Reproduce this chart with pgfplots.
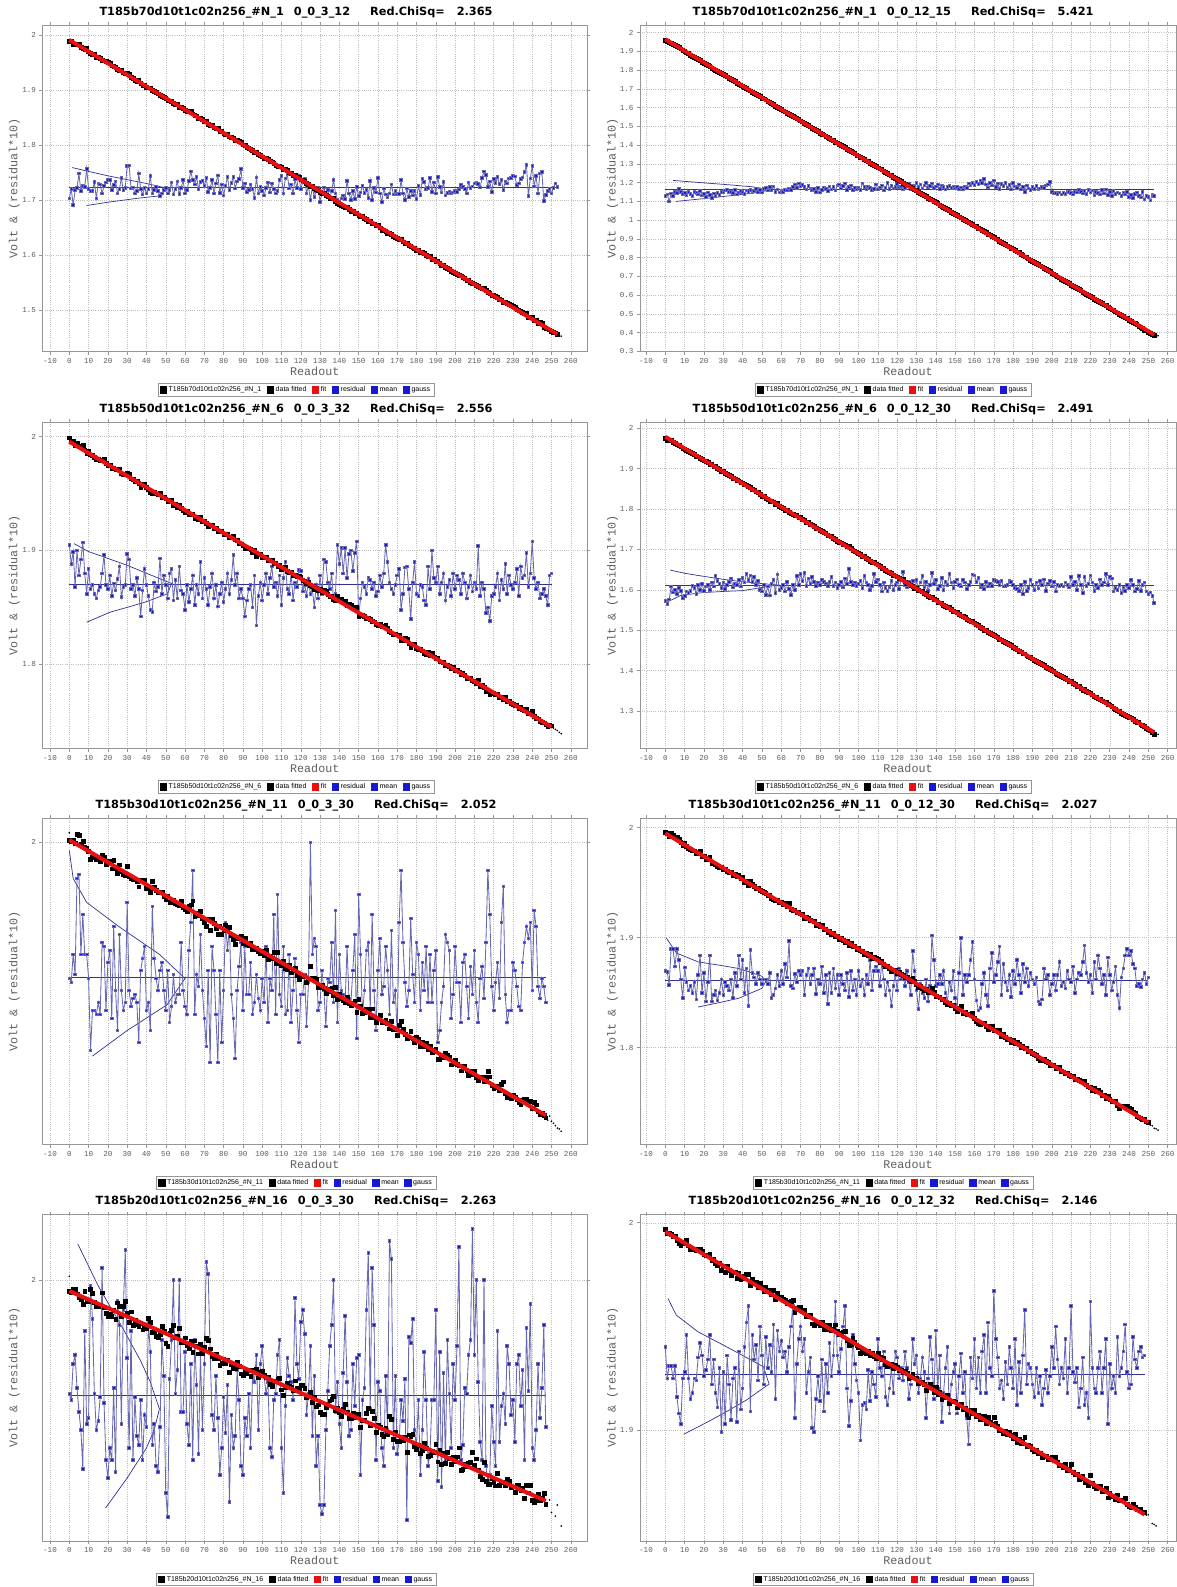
\documentclass[border=0pt]{standalone}
\usepackage{pgfplots}
\pgfplotsset{compat=1.18}
\usepackage{pgfplotstable}
\usepackage{fontspec}
\setmainfont{DejaVu Sans}
\setmonofont{Liberation Mono}
\newfontfamily\legfont{Liberation Sans}
\newfontfamily\labelfont{Liberation Mono}

\definecolor{fitred}{RGB}{232,16,16}
\definecolor{resblue}{RGB}{24,24,210}
\definecolor{resline}{RGB}{104,104,176}
\definecolor{meanblue}{RGB}{48,48,150}
\definecolor{gridgray}{RGB}{190,190,190}
\definecolor{framegray}{RGB}{150,150,150}
\definecolor{labelgray}{RGB}{95,95,95}

% residual*10 values, one per readout (x = row index)
\pgfplotstableread[row sep=\\]{
r\\
1.703\\ 1.720\\ 1.691\\ 1.718\\ 1.722\\ 1.748\\ 1.716\\ 1.726\\ 1.724\\ 1.757\\
1.720\\ 1.716\\ 1.717\\ 1.733\\ 1.703\\ 1.730\\ 1.728\\ 1.712\\ 1.726\\ 1.732\\
1.737\\ 1.737\\ 1.718\\ 1.727\\ 1.734\\ 1.712\\ 1.720\\ 1.740\\ 1.718\\ 1.722\\
1.762\\ 1.763\\ 1.721\\ 1.723\\ 1.712\\ 1.716\\ 1.748\\ 1.720\\ 1.710\\ 1.722\\
1.712\\ 1.720\\ 1.744\\ 1.712\\ 1.718\\ 1.724\\ 1.716\\ 1.707\\ 1.712\\ 1.718\\
1.722\\ 1.712\\ 1.718\\ 1.732\\ 1.710\\ 1.720\\ 1.734\\ 1.711\\ 1.722\\ 1.736\\
1.712\\ 1.718\\ 1.735\\ 1.752\\ 1.736\\ 1.728\\ 1.742\\ 1.720\\ 1.733\\ 1.735\\
1.726\\ 1.740\\ 1.715\\ 1.722\\ 1.736\\ 1.712\\ 1.730\\ 1.745\\ 1.713\\ 1.728\\
1.708\\ 1.726\\ 1.742\\ 1.718\\ 1.731\\ 1.742\\ 1.721\\ 1.734\\ 1.738\\ 1.756\\
1.722\\ 1.730\\ 1.715\\ 1.718\\ 1.728\\ 1.720\\ 1.704\\ 1.741\\ 1.712\\ 1.724\\
1.716\\ 1.708\\ 1.722\\ 1.732\\ 1.714\\ 1.730\\ 1.720\\ 1.712\\ 1.716\\ 1.736\\
1.744\\ 1.712\\ 1.739\\ 1.747\\ 1.721\\ 1.728\\ 1.712\\ 1.738\\ 1.722\\ 1.745\\
1.720\\ 1.732\\ 1.738\\ 1.712\\ 1.726\\ 1.700\\ 1.724\\ 1.706\\ 1.716\\ 1.722\\
1.697\\ 1.712\\ 1.723\\ 1.707\\ 1.718\\ 1.702\\ 1.716\\ 1.737\\ 1.712\\ 1.700\\
1.697\\ 1.703\\ 1.708\\ 1.702\\ 1.735\\ 1.712\\ 1.700\\ 1.716\\ 1.702\\ 1.724\\
1.707\\ 1.714\\ 1.726\\ 1.713\\ 1.718\\ 1.704\\ 1.735\\ 1.700\\ 1.722\\ 1.714\\
1.740\\ 1.712\\ 1.696\\ 1.721\\ 1.710\\ 1.705\\ 1.712\\ 1.728\\ 1.710\\ 1.716\\
1.710\\ 1.711\\ 1.736\\ 1.712\\ 1.700\\ 1.721\\ 1.706\\ 1.717\\ 1.708\\ 1.717\\
1.702\\ 1.726\\ 1.709\\ 1.738\\ 1.733\\ 1.720\\ 1.722\\ 1.740\\ 1.715\\ 1.732\\
1.712\\ 1.742\\ 1.724\\ 1.714\\ 1.733\\ 1.708\\ 1.713\\ 1.715\\ 1.712\\ 1.714\\
1.717\\ 1.715\\ 1.719\\ 1.727\\ 1.724\\ 1.720\\ 1.712\\ 1.732\\ 1.722\\ 1.725\\
1.730\\ 1.731\\ 1.729\\ 1.723\\ 1.740\\ 1.752\\ 1.746\\ 1.724\\ 1.734\\ 1.715\\
1.738\\ 1.731\\ 1.742\\ 1.729\\ 1.736\\ 1.718\\ 1.734\\ 1.730\\ 1.739\\ 1.740\\
1.744\\ 1.743\\ 1.727\\ 1.730\\ 1.738\\ 1.741\\ 1.751\\ 1.764\\ 1.707\\ 1.739\\
1.762\\ 1.725\\ 1.744\\ 1.712\\ 1.748\\ 1.751\\ 1.698\\ 1.709\\ 1.716\\ 1.720\\
1.712\\ 1.722\\ 1.730\\ 1.724\\
}\resA

\pgfplotstableread[row sep=\\]{
r\\
1.130\\ 1.138\\ 1.100\\ 1.142\\ 1.128\\ 1.150\\ 1.145\\ 1.168\\ 1.152\\ 1.140\\
1.146\\ 1.132\\ 1.150\\ 1.140\\ 1.128\\ 1.152\\ 1.145\\ 1.138\\ 1.155\\ 1.132\\
1.140\\ 1.125\\ 1.148\\ 1.136\\ 1.120\\ 1.142\\ 1.130\\ 1.145\\ 1.135\\ 1.150\\
1.148\\ 1.158\\ 1.160\\ 1.152\\ 1.150\\ 1.145\\ 1.160\\ 1.138\\ 1.148\\ 1.155\\
1.150\\ 1.140\\ 1.158\\ 1.152\\ 1.162\\ 1.148\\ 1.155\\ 1.168\\ 1.150\\ 1.160\\
1.148\\ 1.166\\ 1.172\\ 1.158\\ 1.178\\ 1.160\\ 1.180\\ 1.152\\ 1.165\\ 1.148\\
1.155\\ 1.150\\ 1.162\\ 1.158\\ 1.170\\ 1.160\\ 1.176\\ 1.190\\ 1.172\\ 1.195\\
1.180\\ 1.188\\ 1.178\\ 1.165\\ 1.182\\ 1.170\\ 1.160\\ 1.168\\ 1.150\\ 1.172\\
1.148\\ 1.160\\ 1.175\\ 1.168\\ 1.155\\ 1.180\\ 1.165\\ 1.178\\ 1.158\\ 1.185\\
1.190\\ 1.170\\ 1.182\\ 1.196\\ 1.162\\ 1.178\\ 1.185\\ 1.160\\ 1.172\\ 1.165\\
1.175\\ 1.162\\ 1.195\\ 1.178\\ 1.165\\ 1.180\\ 1.172\\ 1.160\\ 1.168\\ 1.190\\
1.165\\ 1.175\\ 1.186\\ 1.158\\ 1.172\\ 1.198\\ 1.168\\ 1.182\\ 1.170\\ 1.178\\
1.192\\ 1.175\\ 1.180\\ 1.165\\ 1.172\\ 1.188\\ 1.195\\ 1.168\\ 1.182\\ 1.176\\
1.200\\ 1.178\\ 1.190\\ 1.170\\ 1.186\\ 1.198\\ 1.175\\ 1.182\\ 1.196\\ 1.172\\
1.180\\ 1.190\\ 1.168\\ 1.185\\ 1.178\\ 1.165\\ 1.176\\ 1.182\\ 1.172\\ 1.180\\
1.170\\ 1.178\\ 1.168\\ 1.175\\ 1.165\\ 1.180\\ 1.172\\ 1.196\\ 1.185\\ 1.200\\
1.188\\ 1.205\\ 1.192\\ 1.210\\ 1.198\\ 1.220\\ 1.190\\ 1.175\\ 1.200\\ 1.185\\
1.212\\ 1.178\\ 1.196\\ 1.168\\ 1.192\\ 1.182\\ 1.200\\ 1.175\\ 1.188\\ 1.165\\
1.198\\ 1.180\\ 1.172\\ 1.190\\ 1.165\\ 1.178\\ 1.152\\ 1.185\\ 1.170\\ 1.160\\
1.176\\ 1.168\\ 1.182\\ 1.165\\ 1.170\\ 1.178\\ 1.172\\ 1.185\\ 1.190\\ 1.205\\
1.150\\ 1.142\\ 1.145\\ 1.140\\ 1.148\\ 1.138\\ 1.145\\ 1.140\\ 1.150\\ 1.152\\
1.145\\ 1.138\\ 1.152\\ 1.148\\ 1.160\\ 1.150\\ 1.142\\ 1.155\\ 1.140\\ 1.162\\
1.148\\ 1.158\\ 1.132\\ 1.150\\ 1.145\\ 1.138\\ 1.160\\ 1.142\\ 1.165\\ 1.135\\
1.150\\ 1.128\\ 1.155\\ 1.140\\ 1.148\\ 1.142\\ 1.130\\ 1.145\\ 1.138\\ 1.150\\
1.125\\ 1.135\\ 1.118\\ 1.140\\ 1.148\\ 1.128\\ 1.122\\ 1.150\\ 1.110\\ 1.130\\
1.125\\ 1.105\\ 1.135\\ 1.130\\
}\resB

\pgfplotstableread[row sep=\\]{
r\\
1.905\\ 1.888\\ 1.899\\ 1.868\\ 1.900\\ 1.878\\ 1.892\\ 1.907\\ 1.880\\ 1.862\\
1.884\\ 1.866\\ 1.870\\ 1.862\\ 1.858\\ 1.865\\ 1.868\\ 1.880\\ 1.896\\ 1.870\\
1.866\\ 1.878\\ 1.860\\ 1.871\\ 1.865\\ 1.875\\ 1.886\\ 1.859\\ 1.868\\ 1.870\\
1.897\\ 1.892\\ 1.866\\ 1.870\\ 1.860\\ 1.876\\ 1.866\\ 1.842\\ 1.865\\ 1.884\\
1.870\\ 1.860\\ 1.848\\ 1.846\\ 1.872\\ 1.864\\ 1.868\\ 1.893\\ 1.862\\ 1.878\\
1.870\\ 1.858\\ 1.880\\ 1.884\\ 1.856\\ 1.874\\ 1.858\\ 1.886\\ 1.865\\ 1.862\\
1.848\\ 1.870\\ 1.855\\ 1.866\\ 1.878\\ 1.852\\ 1.870\\ 1.862\\ 1.890\\ 1.858\\
1.876\\ 1.866\\ 1.852\\ 1.868\\ 1.880\\ 1.858\\ 1.870\\ 1.851\\ 1.862\\ 1.872\\
1.855\\ 1.866\\ 1.880\\ 1.862\\ 1.874\\ 1.896\\ 1.870\\ 1.880\\ 1.858\\ 1.866\\
1.858\\ 1.842\\ 1.856\\ 1.866\\ 1.870\\ 1.850\\ 1.878\\ 1.834\\ 1.860\\ 1.872\\
1.856\\ 1.870\\ 1.880\\ 1.862\\ 1.876\\ 1.886\\ 1.868\\ 1.872\\ 1.860\\ 1.878\\
1.852\\ 1.876\\ 1.890\\ 1.866\\ 1.862\\ 1.880\\ 1.856\\ 1.872\\ 1.868\\ 1.883\\
1.882\\ 1.864\\ 1.870\\ 1.860\\ 1.875\\ 1.862\\ 1.866\\ 1.850\\ 1.870\\ 1.858\\
1.878\\ 1.862\\ 1.892\\ 1.890\\ 1.872\\ 1.866\\ 1.880\\ 1.856\\ 1.862\\ 1.905\\
1.888\\ 1.902\\ 1.880\\ 1.902\\ 1.876\\ 1.897\\ 1.900\\ 1.882\\ 1.898\\ 1.908\\
1.842\\ 1.858\\ 1.872\\ 1.868\\ 1.862\\ 1.876\\ 1.874\\ 1.866\\ 1.872\\ 1.860\\
1.864\\ 1.878\\ 1.868\\ 1.880\\ 1.905\\ 1.890\\ 1.872\\ 1.866\\ 1.862\\ 1.870\\
1.878\\ 1.884\\ 1.848\\ 1.862\\ 1.885\\ 1.886\\ 1.866\\ 1.840\\ 1.872\\ 1.890\\
1.862\\ 1.860\\ 1.870\\ 1.868\\ 1.856\\ 1.852\\ 1.886\\ 1.866\\ 1.900\\ 1.876\\
1.872\\ 1.886\\ 1.862\\ 1.872\\ 1.880\\ 1.856\\ 1.868\\ 1.874\\ 1.860\\ 1.880\\
1.866\\ 1.878\\ 1.874\\ 1.862\\ 1.880\\ 1.872\\ 1.858\\ 1.868\\ 1.878\\ 1.864\\
1.872\\ 1.866\\ 1.904\\ 1.860\\ 1.872\\ 1.866\\ 1.845\\ 1.850\\ 1.838\\ 1.860\\
1.862\\ 1.868\\ 1.880\\ 1.856\\ 1.874\\ 1.866\\ 1.888\\ 1.862\\ 1.878\\ 1.870\\
1.866\\ 1.872\\ 1.884\\ 1.860\\ 1.886\\ 1.876\\ 1.878\\ 1.898\\ 1.868\\ 1.880\\
1.908\\ 1.876\\ 1.866\\ 1.872\\ 1.858\\ 1.862\\ 1.866\\ 1.860\\ 1.852\\ 1.878\\
1.880\\
}\resC

\pgfplotstableread[row sep=\\]{
r\\
1.572\\ 1.565\\ 1.576\\ 1.608\\ 1.594\\ 1.600\\ 1.590\\ 1.605\\ 1.598\\ 1.580\\
1.585\\ 1.596\\ 1.592\\ 1.598\\ 1.610\\ 1.604\\ 1.590\\ 1.612\\ 1.600\\ 1.615\\
1.598\\ 1.608\\ 1.612\\ 1.600\\ 1.618\\ 1.608\\ 1.635\\ 1.622\\ 1.615\\ 1.605\\
1.618\\ 1.602\\ 1.612\\ 1.620\\ 1.628\\ 1.606\\ 1.615\\ 1.612\\ 1.625\\ 1.608\\
1.630\\ 1.618\\ 1.640\\ 1.625\\ 1.636\\ 1.620\\ 1.632\\ 1.612\\ 1.622\\ 1.600\\
1.596\\ 1.612\\ 1.588\\ 1.608\\ 1.586\\ 1.615\\ 1.625\\ 1.592\\ 1.638\\ 1.600\\
1.604\\ 1.612\\ 1.596\\ 1.620\\ 1.602\\ 1.588\\ 1.612\\ 1.600\\ 1.635\\ 1.612\\
1.640\\ 1.622\\ 1.642\\ 1.610\\ 1.628\\ 1.615\\ 1.632\\ 1.620\\ 1.610\\ 1.618\\
1.612\\ 1.625\\ 1.620\\ 1.616\\ 1.610\\ 1.620\\ 1.632\\ 1.610\\ 1.618\\ 1.605\\
1.612\\ 1.620\\ 1.606\\ 1.628\\ 1.615\\ 1.652\\ 1.620\\ 1.612\\ 1.618\\ 1.610\\
1.615\\ 1.622\\ 1.605\\ 1.635\\ 1.618\\ 1.612\\ 1.600\\ 1.610\\ 1.640\\ 1.620\\
1.626\\ 1.612\\ 1.596\\ 1.618\\ 1.604\\ 1.598\\ 1.606\\ 1.622\\ 1.600\\ 1.612\\
1.618\\ 1.602\\ 1.625\\ 1.645\\ 1.612\\ 1.606\\ 1.620\\ 1.615\\ 1.622\\ 1.602\\
1.625\\ 1.598\\ 1.618\\ 1.635\\ 1.606\\ 1.620\\ 1.598\\ 1.612\\ 1.642\\ 1.615\\
1.625\\ 1.602\\ 1.610\\ 1.630\\ 1.600\\ 1.620\\ 1.612\\ 1.640\\ 1.618\\ 1.605\\
1.620\\ 1.626\\ 1.612\\ 1.608\\ 1.625\\ 1.618\\ 1.602\\ 1.612\\ 1.620\\ 1.638\\
1.636\\ 1.620\\ 1.630\\ 1.606\\ 1.612\\ 1.602\\ 1.620\\ 1.608\\ 1.615\\ 1.610\\
1.624\\ 1.622\\ 1.620\\ 1.612\\ 1.622\\ 1.608\\ 1.610\\ 1.612\\ 1.622\\ 1.620\\
1.612\\ 1.604\\ 1.602\\ 1.598\\ 1.612\\ 1.590\\ 1.620\\ 1.598\\ 1.605\\ 1.625\\
1.612\\ 1.600\\ 1.618\\ 1.603\\ 1.622\\ 1.612\\ 1.626\\ 1.598\\ 1.616\\ 1.622\\
1.608\\ 1.620\\ 1.596\\ 1.612\\ 1.610\\ 1.612\\ 1.608\\ 1.618\\ 1.612\\ 1.606\\
1.632\\ 1.612\\ 1.620\\ 1.600\\ 1.635\\ 1.612\\ 1.592\\ 1.632\\ 1.610\\ 1.615\\
1.636\\ 1.618\\ 1.598\\ 1.612\\ 1.604\\ 1.626\\ 1.612\\ 1.618\\ 1.640\\ 1.612\\
1.632\\ 1.628\\ 1.596\\ 1.605\\ 1.600\\ 1.612\\ 1.592\\ 1.606\\ 1.598\\ 1.612\\
1.605\\ 1.625\\ 1.612\\ 1.596\\ 1.602\\ 1.622\\ 1.598\\ 1.612\\ 1.618\\ 1.596\\
1.590\\ 1.594\\ 1.585\\ 1.568\\
}\resD

\pgfplotstableread[row sep=\\]{
r\\
1.966\\ 1.965\\ 1.972\\ 1.967\\ 1.991\\ 1.992\\ 1.972\\ 1.982\\ 1.972\\ 1.972\\
1.966\\ 1.948\\ 1.958\\ 1.958\\ 1.957\\ 1.960\\ 1.957\\ 1.975\\ 1.974\\ 1.958\\
1.970\\ 1.973\\ 1.956\\ 1.979\\ 1.963\\ 1.953\\ 1.977\\ 1.963\\ 1.958\\ 1.960\\
1.985\\ 1.963\\ 1.959\\ 1.961\\ 1.962\\ 1.960\\ 1.950\\ 1.968\\ 1.971\\ 1.974\\
1.958\\ 1.960\\ 1.953\\ 1.984\\ 1.971\\ 1.966\\ 1.963\\ 1.968\\ 1.970\\ 1.963\\
1.958\\ 1.968\\ 1.955\\ 1.959\\ 1.967\\ 1.960\\ 1.962\\ 1.962\\ 1.975\\ 1.963\\
1.959\\ 1.957\\ 1.973\\ 1.980\\ 1.993\\ 1.957\\ 1.967\\ 1.964\\ 1.977\\ 1.963\\
1.956\\ 1.949\\ 1.968\\ 1.945\\ 1.974\\ 1.968\\ 1.957\\ 1.945\\ 1.968\\ 1.950\\
1.963\\ 1.980\\ 1.973\\ 1.979\\ 1.962\\ 1.956\\ 1.946\\ 1.963\\ 1.969\\ 1.975\\
1.958\\ 1.974\\ 1.962\\ 1.962\\ 1.970\\ 1.957\\ 1.960\\ 1.967\\ 1.961\\ 1.958\\
1.966\\ 1.960\\ 1.974\\ 1.955\\ 1.966\\ 1.963\\ 1.982\\ 1.957\\ 1.987\\ 1.962\\
1.959\\ 1.974\\ 1.957\\ 1.958\\ 1.972\\ 1.955\\ 1.963\\ 1.971\\ 1.958\\ 1.950\\
1.962\\ 1.962\\ 1.967\\ 1.954\\ 1.965\\ 2.000\\ 1.972\\ 1.976\\ 1.974\\ 1.958\\
1.960\\ 1.968\\ 1.963\\ 1.954\\ 1.966\\ 1.965\\ 1.975\\ 1.960\\ 1.983\\ 1.955\\
1.972\\ 1.963\\ 1.962\\ 1.960\\ 1.974\\ 1.961\\ 1.960\\ 1.968\\ 1.977\\ 1.951\\
1.987\\ 1.972\\ 1.957\\ 1.963\\ 1.973\\ 1.975\\ 1.958\\ 1.982\\ 1.963\\ 1.953\\
1.968\\ 1.976\\ 1.962\\ 1.964\\ 1.974\\ 1.968\\ 1.957\\ 1.978\\ 1.960\\ 1.963\\
1.952\\ 1.980\\ 1.993\\ 1.975\\ 1.965\\ 1.959\\ 1.963\\ 1.981\\ 1.967\\ 1.960\\
1.975\\ 1.972\\ 1.958\\ 1.970\\ 1.963\\ 1.974\\ 1.960\\ 1.972\\ 1.960\\ 1.968\\
1.973\\ 1.950\\ 1.953\\ 1.960\\ 1.964\\ 1.977\\ 1.975\\ 1.973\\ 1.956\\ 1.962\\
1.974\\ 1.965\\ 1.965\\ 1.955\\ 1.970\\ 1.972\\ 1.964\\ 1.956\\ 1.969\\ 1.962\\
1.973\\ 1.960\\ 1.955\\ 1.966\\ 1.969\\ 1.961\\ 1.975\\ 1.993\\ 1.982\\ 1.964\\
1.958\\ 1.965\\ 1.970\\ 1.961\\ 1.980\\ 1.989\\ 1.962\\ 1.955\\ 1.958\\ 1.958\\
1.970\\ 1.968\\ 1.964\\ 1.959\\ 1.958\\ 1.970\\ 1.975\\ 1.979\\ 1.976\\ 1.980\\
1.963\\ 1.983\\ 1.979\\ 1.964\\ 1.961\\ 1.966\\ 1.964\\ 1.960\\
}\resE

\pgfplotstableread[row sep=\\]{
r\\
1.870\\ 1.869\\ 1.857\\ 1.890\\ 1.890\\ 1.874\\ 1.890\\ 1.880\\ 1.862\\ 1.845\\
1.873\\ 1.860\\ 1.852\\ 1.856\\ 1.850\\ 1.860\\ 1.844\\ 1.866\\ 1.884\\ 1.850\\
1.868\\ 1.842\\ 1.860\\ 1.884\\ 1.842\\ 1.848\\ 1.852\\ 1.843\\ 1.850\\ 1.862\\
1.848\\ 1.860\\ 1.856\\ 1.852\\ 1.862\\ 1.845\\ 1.868\\ 1.856\\ 1.884\\ 1.862\\
1.880\\ 1.850\\ 1.872\\ 1.838\\ 1.889\\ 1.868\\ 1.864\\ 1.858\\ 1.868\\ 1.862\\
1.858\\ 1.862\\ 1.862\\ 1.858\\ 1.868\\ 1.845\\ 1.848\\ 1.854\\ 1.866\\ 1.856\\
1.870\\ 1.858\\ 1.876\\ 1.864\\ 1.897\\ 1.856\\ 1.854\\ 1.867\\ 1.860\\ 1.870\\
1.866\\ 1.870\\ 1.848\\ 1.866\\ 1.872\\ 1.858\\ 1.866\\ 1.872\\ 1.849\\ 1.862\\
1.858\\ 1.874\\ 1.850\\ 1.866\\ 1.840\\ 1.868\\ 1.850\\ 1.872\\ 1.854\\ 1.866\\
1.848\\ 1.866\\ 1.858\\ 1.852\\ 1.868\\ 1.846\\ 1.870\\ 1.852\\ 1.862\\ 1.848\\
1.870\\ 1.856\\ 1.862\\ 1.848\\ 1.866\\ 1.858\\ 1.880\\ 1.852\\ 1.870\\ 1.874\\
1.870\\ 1.856\\ 1.878\\ 1.862\\ 1.848\\ 1.860\\ 1.852\\ 1.838\\ 1.856\\ 1.866\\
1.852\\ 1.872\\ 1.862\\ 1.866\\ 1.856\\ 1.870\\ 1.860\\ 1.848\\ 1.888\\ 1.870\\
1.852\\ 1.835\\ 1.858\\ 1.850\\ 1.845\\ 1.862\\ 1.842\\ 1.856\\ 1.902\\ 1.880\\
1.856\\ 1.858\\ 1.866\\ 1.858\\ 1.870\\ 1.850\\ 1.842\\ 1.860\\ 1.852\\ 1.870\\
1.845\\ 1.835\\ 1.868\\ 1.900\\ 1.848\\ 1.866\\ 1.860\\ 1.866\\ 1.880\\ 1.896\\
1.862\\ 1.843\\ 1.834\\ 1.836\\ 1.858\\ 1.868\\ 1.848\\ 1.838\\ 1.872\\ 1.886\\
1.860\\ 1.866\\ 1.878\\ 1.892\\ 1.848\\ 1.876\\ 1.860\\ 1.852\\ 1.866\\ 1.846\\
1.870\\ 1.858\\ 1.880\\ 1.866\\ 1.850\\ 1.876\\ 1.860\\ 1.872\\ 1.856\\ 1.868\\
1.862\\ 1.858\\ 1.864\\ 1.842\\ 1.840\\ 1.844\\ 1.872\\ 1.862\\ 1.866\\ 1.848\\
1.858\\ 1.866\\ 1.852\\ 1.866\\ 1.878\\ 1.856\\ 1.860\\ 1.854\\ 1.870\\ 1.862\\
1.860\\ 1.874\\ 1.850\\ 1.862\\ 1.868\\ 1.866\\ 1.878\\ 1.893\\ 1.868\\ 1.860\\
1.866\\ 1.850\\ 1.878\\ 1.862\\ 1.884\\ 1.872\\ 1.858\\ 1.866\\ 1.848\\ 1.882\\
1.866\\ 1.852\\ 1.860\\ 1.874\\ 1.848\\ 1.836\\ 1.864\\ 1.872\\ 1.884\\ 1.890\\
1.884\\ 1.888\\ 1.876\\ 1.872\\ 1.856\\ 1.858\\ 1.855\\ 1.862\\ 1.868\\ 1.858\\
1.864\\
}\resF

\pgfplotstableread[row sep=\\]{
r\\
1.962\\ 1.960\\ 1.972\\ 1.975\\ 1.964\\ 1.956\\ 1.950\\ 1.937\\ 1.983\\ 1.952\\
1.954\\ 1.998\\ 1.987\\ 1.962\\ 1.950\\ 1.953\\ 1.961\\ 2.004\\ 1.959\\ 1.940\\
1.934\\ 1.944\\ 1.940\\ 1.964\\ 1.936\\ 1.993\\ 1.985\\ 1.952\\ 1.990\\ 2.010\\
1.974\\ 1.944\\ 1.983\\ 1.940\\ 1.961\\ 1.948\\ 1.945\\ 1.960\\ 1.940\\ 1.955\\
1.951\\ 1.986\\ 1.976\\ 1.945\\ 1.952\\ 1.938\\ 1.936\\ 1.951\\ 1.980\\ 1.968\\
1.929\\ 1.921\\ 1.967\\ 1.980\\ 2.000\\ 1.962\\ 1.970\\ 2.000\\ 1.956\\ 1.956\\
1.976\\ 1.952\\ 1.945\\ 1.972\\ 1.940\\ 1.980\\ 1.965\\ 1.942\\ 1.976\\ 1.950\\
1.972\\ 2.006\\ 2.002\\ 1.976\\ 1.955\\ 1.950\\ 1.968\\ 1.954\\ 1.935\\ 1.944\\
1.961\\ 1.949\\ 1.965\\ 1.926\\ 1.955\\ 1.944\\ 1.948\\ 1.970\\ 1.960\\ 1.938\\
1.935\\ 1.954\\ 1.948\\ 1.962\\ 1.944\\ 1.968\\ 1.966\\ 1.975\\ 1.950\\ 1.972\\
1.978\\ 1.968\\ 1.962\\ 1.966\\ 1.944\\ 1.941\\ 1.960\\ 1.962\\ 1.975\\ 1.980\\
1.944\\ 1.929\\ 1.958\\ 1.974\\ 1.968\\ 1.966\\ 1.960\\ 1.994\\ 1.972\\ 1.967\\
1.986\\ 1.990\\ 1.982\\ 1.955\\ 1.962\\ 1.978\\ 1.948\\ 1.968\\ 1.938\\ 1.948\\
1.925\\ 1.922\\ 1.925\\ 1.950\\ 1.963\\ 1.978\\ 1.985\\ 2.000\\ 1.956\\ 1.966\\
1.952\\ 1.944\\ 1.969\\ 1.988\\ 1.966\\ 1.948\\ 1.950\\ 1.972\\ 1.958\\ 1.974\\
1.975\\ 1.935\\ 1.960\\ 1.964\\ 1.990\\ 2.009\\ 1.957\\ 2.004\\ 1.985\\ 1.940\\
1.966\\ 1.963\\ 1.944\\ 1.938\\ 1.968\\ 1.950\\ 2.013\\ 2.007\\ 1.944\\ 1.968\\
1.942\\ 1.946\\ 1.960\\ 1.953\\ 1.967\\ 1.920\\ 1.981\\ 1.979\\ 1.987\\ 1.950\\
1.944\\ 1.960\\ 1.935\\ 1.950\\ 1.976\\ 1.960\\ 1.938\\ 1.942\\ 1.960\\ 1.960\\
1.990\\ 1.933\\ 1.976\\ 1.931\\ 1.969\\ 1.940\\ 1.980\\ 1.962\\ 1.944\\ 1.972\\
1.960\\ 1.978\\ 2.011\\ 1.940\\ 1.945\\ 1.964\\ 1.962\\ 1.975\\ 1.980\\ 2.017\\
1.975\\ 2.000\\ 1.966\\ 1.946\\ 1.940\\ 2.000\\ 1.938\\ 1.933\\ 1.935\\ 1.958\\
1.946\\ 1.938\\ 1.983\\ 1.946\\ 1.958\\ 1.962\\ 1.952\\ 1.978\\ 1.972\\ 1.955\\
1.960\\ 1.946\\ 1.972\\ 1.975\\ 1.958\\ 1.970\\ 1.940\\ 1.984\\ 1.963\\ 1.992\\
1.944\\ 1.940\\ 1.950\\ 1.972\\ 1.954\\ 1.964\\ 1.985\\ 1.951\\
}\resG

\pgfplotstableread[row sep=\\]{
r\\
1.940\\ 1.925\\ 1.931\\ 1.931\\ 1.925\\ 1.931\\ 1.916\\ 1.908\\ 1.903\\ 1.925\\
1.928\\ 1.946\\ 1.925\\ 1.915\\ 1.918\\ 1.925\\ 1.924\\ 1.935\\ 1.942\\ 1.936\\
1.926\\ 1.929\\ 1.934\\ 1.946\\ 1.922\\ 1.934\\ 1.918\\ 1.911\\ 1.930\\ 1.899\\
1.928\\ 1.903\\ 1.936\\ 1.922\\ 1.905\\ 1.925\\ 1.930\\ 1.904\\ 1.938\\ 1.910\\
1.920\\ 1.940\\ 1.952\\ 1.960\\ 1.909\\ 1.946\\ 1.934\\ 1.941\\ 1.924\\ 1.950\\
1.936\\ 1.922\\ 1.945\\ 1.930\\ 1.941\\ 1.928\\ 1.951\\ 1.915\\ 1.948\\ 1.938\\
1.943\\ 1.935\\ 1.938\\ 1.928\\ 1.940\\ 1.950\\ 1.960\\ 1.906\\ 1.932\\ 1.944\\
1.950\\ 1.938\\ 1.944\\ 1.918\\ 1.928\\ 1.935\\ 1.901\\ 1.899\\ 1.915\\ 1.926\\
1.914\\ 1.934\\ 1.909\\ 1.932\\ 1.918\\ 1.942\\ 1.926\\ 1.936\\ 1.962\\ 1.936\\
1.928\\ 1.939\\ 1.950\\ 1.960\\ 1.920\\ 1.902\\ 1.914\\ 1.946\\ 1.932\\ 1.924\\
1.918\\ 1.895\\ 1.912\\ 1.913\\ 1.910\\ 1.929\\ 1.914\\ 1.928\\ 1.922\\ 1.916\\
1.944\\ 1.930\\ 1.926\\ 1.938\\ 1.916\\ 1.912\\ 1.920\\ 1.930\\ 1.918\\ 1.938\\
1.935\\ 1.925\\ 1.930\\ 1.924\\ 1.938\\ 1.930\\ 1.915\\ 1.922\\ 1.944\\ 1.932\\
1.936\\ 1.918\\ 1.925\\ 1.935\\ 1.928\\ 1.906\\ 1.925\\ 1.945\\ 1.934\\ 1.915\\
1.948\\ 1.920\\ 1.936\\ 1.904\\ 1.918\\ 1.930\\ 1.940\\ 1.908\\ 1.922\\ 1.928\\
1.932\\ 1.908\\ 1.926\\ 1.937\\ 1.918\\ 1.928\\ 1.906\\ 1.893\\ 1.935\\ 1.925\\
1.944\\ 1.920\\ 1.935\\ 1.918\\ 1.938\\ 1.946\\ 1.918\\ 1.952\\ 1.930\\ 1.926\\
1.967\\ 1.944\\ 1.935\\ 1.920\\ 1.924\\ 1.915\\ 1.933\\ 1.922\\ 1.940\\ 1.930\\
1.920\\ 1.944\\ 1.912\\ 1.933\\ 1.918\\ 1.936\\ 1.958\\ 1.922\\ 1.932\\ 1.930\\
1.922\\ 1.916\\ 1.930\\ 1.918\\ 1.926\\ 1.912\\ 1.920\\ 1.929\\ 1.918\\ 1.926\\
1.940\\ 1.930\\ 1.950\\ 1.934\\ 1.922\\ 1.930\\ 1.925\\ 1.944\\ 1.918\\ 1.930\\
1.960\\ 1.928\\ 1.923\\ 1.930\\ 1.911\\ 1.920\\ 1.935\\ 1.912\\ 1.918\\ 1.906\\
1.962\\ 1.930\\ 1.920\\ 1.918\\ 1.930\\ 1.938\\ 1.918\\ 1.930\\ 1.944\\ 1.903\\
1.932\\ 1.920\\ 1.926\\ 1.918\\ 1.945\\ 1.926\\ 1.930\\ 1.938\\ 1.951\\ 1.928\\
1.920\\ 1.922\\ 1.945\\ 1.934\\ 1.930\\ 1.938\\ 1.940\\ 1.935\\ 1.936\\
}\resH

\pgfplotsset{
  legsq/.style={legend image code/.code={\fill[#1] (0pt,-3.2pt) rectangle (6.4pt,3.2pt);}},
  gaussline/.style={forget plot, no markers, draw=meanblue, line width=0.7pt},
  meanline/.style={forget plot, no markers, draw=meanblue, line width=0.9pt},
  resplot/.style={forget plot, draw=resline, line width=0.85pt, mark=square*, mark size=1.3pt,
    mark options={fill=resblue, draw=none}},
  rawpts/.style={forget plot, only marks, mark=*, mark size=0.6pt, black},
  fitpts/.style={forget plot, only marks, mark=square*, mark size=1.9pt, black},
  fitline/.style={forget plot, no markers, draw=fitred, line width=4pt},
  panel/.style={
    scale only axis, height=326.5pt,
    clip mode=individual,
    axis line style={draw=framegray, line width=0.6pt},
    xtick={-10,0,...,260},
    grid=major,
    major grid style={draw=gridgray, line width=0.45pt, dash pattern=on 1pt off 1.2pt},
    tick align=outside, major tick length=3pt,
    major tick style={draw=framegray, line width=0.5pt},
    /pgf/number format/assume math mode=true,
    yticklabel style={/pgf/number format/fixed, /pgf/number format/precision=1},
    ticklabel style={font=\labelfont\fontsize{7.6}{8}\selectfont, text=labelgray},
    xlabel={\labelfont\fontsize{11.7}{13}\selectfont Readout},
    ylabel={\labelfont\fontsize{11.7}{13}\selectfont Volt \& (residual*10)},
    every axis x label/.style={at={(axis description cs:0.5,-0.0597)}, anchor=center, text=labelgray},
    legend columns=6,
    legend cell align=left,
    legend style={anchor=center, draw=framegray, line width=0.5pt, fill=white,
      inner xsep=2pt, inner ysep=1pt, font=\legfont\fontsize{7}{8}\selectfont,
      nodes={text height=5.1pt, text depth=1.5pt},
      /tikz/every even column/.append style={column sep=3.5pt}},
  },
  leftcol/.style={width=544.5pt, xmin=-13.9, xmax=268.4,
    every axis title/.style={at={(axis description cs:0.4656,1.0383)}, anchor=center,
      font=\bfseries\fontsize{11.3}{13}\selectfont},
    every axis y label/.style={at={(axis description cs:-0.0518,0.5)}, anchor=center, rotate=90, text=labelgray},
    legend style={at={(0.4656,-0.1173)}}},
  rightcol/.style={width=536pt, xmin=-13.1, xmax=264.3,
    every axis title/.style={at={(axis description cs:0.472,1.0383)}, anchor=center,
      font=\bfseries\fontsize{11.3}{13}\selectfont},
    every axis y label/.style={at={(axis description cs:-0.0513,0.5)}, anchor=center, rotate=90, text=labelgray},
    legend style={at={(0.472,-0.1173)}}},
}

\newcommand\legendsquares[1]{%
  \addlegendimage{legsq=black}
  \addlegendimage{legsq=black}
  \addlegendimage{legsq=fitred}
  \addlegendimage{legsq=resblue}
  \addlegendimage{legsq=resblue}
  \addlegendimage{legsq=resblue}
  \legend{#1, data fitted, fit, residual, mean, gauss}}

\begin{document}
\begin{tikzpicture}
\path[fill=white, use as bounding box] (0pt,0pt) rectangle (1177pt,-1587pt);

% ---------- row 1 ----------
\begin{axis}[panel, leftcol, at={(42.5pt,-351.5pt)}, anchor=south west,
  ymin=1.4246, ymax=2.0182, ytick={1.5,1.6,1.7,1.8,1.9,2},
  title={T185b70d10t1c02n256\_\#N\_1\hspace{10pt}0\_0\_3\_12\hspace{20pt}Red.ChiSq=\hspace{12pt}2.365}]
  \legendsquares{T185b70d10t1c02n256\_\#N\_1}
  \addplot[gaussline] coordinates {(1.5,1.759) (10,1.752) (20,1.744) (30,1.737) (40,1.730) (50,1.722)
    (48,1.708) (35,1.703) (20,1.696) (9,1.690)};
  \addplot[meanline] coordinates {(0,1.722) (253,1.722)};
  \addplot[resplot] table[x expr=\coordindex, y=r] {\resA};
  \addplot[rawpts] coordinates {(254,1.4545) (255,1.4525)};
  % data = fit + residual/10
  \addplot[fitpts] table[x=r, y=r, x expr=\coordindex, y expr={1.991-0.0021146*\coordindex+(\thisrow{r}-1.722)/10}] {\resA};
  \addplot[fitline] coordinates {(0,1.991) (253,1.456)};
\end{axis}

\begin{axis}[panel, rightcol, at={(640pt,-351.5pt)}, anchor=south west,
  ymin=0.2995, ymax=2.041,
  ytick={0.3,0.4,0.5,0.6,0.7,0.8,0.9,1,1.1,1.2,1.3,1.4,1.5,1.6,1.7,1.8,1.9,2},
  title={T185b70d10t1c02n256\_\#N\_1\hspace{10pt}0\_0\_12\_15\hspace{20pt}Red.ChiSq=\hspace{12pt}5.421}]
  \legendsquares{T185b70d10t1c02n256\_\#N\_1}
  \addplot[gaussline] coordinates {(4,1.212) (15,1.203) (25,1.195) (35,1.187) (45,1.178) (55,1.162)
    (47,1.147) (35,1.132) (20,1.115) (5.5,1.100)};
  \addplot[meanline] coordinates {(0,1.1615) (253,1.1615)};
  \addplot[resplot] table[x expr=\coordindex, y=r] {\resB};
  \addplot[rawpts] coordinates {(254,0.387) (255,0.3835)};
  \addplot[fitpts] table[x=r, y=r, x expr=\coordindex, y expr={1.965-0.0062292*\coordindex+(\thisrow{r}-1.1615)/10}] {\resB};
  \addplot[fitline] coordinates {(0,1.965) (253,0.389)};
\end{axis}

% ---------- row 2 ----------
\begin{axis}[panel, leftcol, at={(42.5pt,-748.5pt)}, anchor=south west,
  ymin=1.7260, ymax=2.0129, ytick={1.8,1.9,2},
  title={T185b50d10t1c02n256\_\#N\_6\hspace{10pt}0\_0\_3\_32\hspace{20pt}Red.ChiSq=\hspace{12pt}2.556}]
  \legendsquares{T185b50d10t1c02n256\_\#N\_6}
  \addplot[gaussline] coordinates {(2.5,1.906) (10,1.899) (20,1.893) (30,1.887) (40,1.880) (53,1.871)
    (51,1.862) (40,1.855) (30,1.850) (21.5,1.846) (9,1.837)};
  \addplot[meanline] coordinates {(0,1.870) (250,1.870)};
  \addplot[resplot] table[x expr=\coordindex, y=r] {\resC};
  \addplot[rawpts] coordinates {(251,1.7440) (252,1.7428) (253,1.7418) (254,1.7402) (255,1.7390)};
  \addplot[fitpts] table[x=r, y=r, x expr=\coordindex, y expr={1.9956-0.0010024*\coordindex+(\thisrow{r}-1.870)/10}] {\resC};
  \addplot[fitline] coordinates {(0,1.9956) (250,1.745)};
\end{axis}

\begin{axis}[panel, rightcol, at={(640pt,-748.5pt)}, anchor=south west,
  ymin=1.2070, ymax=2.0156, ytick={1.3,1.4,1.5,1.6,1.7,1.8,1.9,2},
  title={T185b50d10t1c02n256\_\#N\_6\hspace{10pt}0\_0\_12\_30\hspace{20pt}Red.ChiSq=\hspace{12pt}2.491}]
  \legendsquares{T185b50d10t1c02n256\_\#N\_6}
  \addplot[gaussline] coordinates {(2.5,1.649) (10,1.641) (19,1.634) (30,1.626) (40,1.620) (58,1.612)
    (40,1.598) (30,1.596) (19,1.593) (8,1.586) (1,1.570)};
  \addplot[meanline] coordinates {(0,1.611) (253,1.611)};
  \addplot[resplot] table[x expr=\coordindex, y=r] {\resD};
  \addplot[rawpts] coordinates {(254,1.2445) (255,1.2420)};
  \addplot[fitpts] table[x=r, y=r, x expr=\coordindex, y expr={1.979-0.0028933*\coordindex+(\thisrow{r}-1.611)/10}] {\resD};
  \addplot[fitline] coordinates {(0,1.979) (253,1.247)};
\end{axis}

% ---------- row 3 ----------
\begin{axis}[panel, leftcol, at={(42.5pt,-1144.5pt)}, anchor=south west,
  ymin=1.9245, ymax=2.0061, ytick={2},
  title={T185b30d10t1c02n256\_\#N\_11\hspace{10pt}0\_0\_3\_30\hspace{20pt}Red.ChiSq=\hspace{12pt}2.052}]
  \legendsquares{T185b30d10t1c02n256\_\#N\_11}
  \addplot[gaussline] coordinates {(0,1.998) (2,1.991) (9,1.985) (25.6,1.979) (46.8,1.972) (60,1.966)
    (50.6,1.9594) (30,1.953) (12,1.9466)};
  \addplot[meanline] coordinates {(0,1.9662) (247,1.9662)};
  \addplot[resplot] table[x expr=\coordindex, y=r] {\resE};
  \addplot[rawpts] coordinates {(0,2.0024) (248,1.9306) (249,1.9316) (250,1.9303) (251,1.9298)
    (252,1.9292) (253,1.9286) (254,1.9284) (255,1.9278)};
  \addplot[fitpts] table[x=r, y=r, x expr=\coordindex, y expr={2.0006-0.00027854*\coordindex+(\thisrow{r}-1.9662)/10}] {\resE};
  \addplot[fitline] coordinates {(0,2.0006) (247,1.9318)};
\end{axis}

\begin{axis}[panel, rightcol, at={(640pt,-1144.5pt)}, anchor=south west,
  ymin=1.7120, ymax=2.0088, ytick={1.8,1.9,2},
  title={T185b30d10t1c02n256\_\#N\_11\hspace{10pt}0\_0\_12\_30\hspace{20pt}Red.ChiSq=\hspace{12pt}2.027}]
  \legendsquares{T185b30d10t1c02n256\_\#N\_11}
  \addplot[gaussline] coordinates {(0.6,1.8995) (5.8,1.886) (17,1.878) (28,1.875) (38,1.872) (50,1.865)
    (52,1.860) (50,1.854) (38,1.845) (28,1.841) (17,1.837)};
  \addplot[meanline] coordinates {(0,1.861) (250,1.861)};
  \addplot[resplot] table[x expr=\coordindex, y=r] {\resF};
  \addplot[rawpts] coordinates {(251,1.7297) (252,1.7290) (253,1.7268) (254,1.7262) (255,1.7251)};
  \addplot[fitpts] table[x=r, y=r, x expr=\coordindex, y expr={1.9949-0.0010516*\coordindex+(\thisrow{r}-1.861)/10}] {\resF};
  \addplot[fitline] coordinates {(0,1.9949) (250,1.7320)};
\end{axis}

% ---------- row 4 ----------
\begin{axis}[panel, leftcol, at={(42.5pt,-1541pt)}, anchor=south west,
  ymin=1.9130, ymax=2.0218, ytick={2},
  title={T185b20d10t1c02n256\_\#N\_16\hspace{10pt}0\_0\_3\_30\hspace{20pt}Red.ChiSq=\hspace{12pt}2.263}]
  \legendsquares{T185b20d10t1c02n256\_\#N\_16}
  \addplot[gaussline] coordinates {(4.4,2.012) (15,1.998) (28.5,1.983) (37,1.973) (42,1.966) (46.7,1.957)
    (44,1.950) (40,1.944) (30,1.934) (18.8,1.924)};
  \addplot[meanline] coordinates {(0,1.9614) (247,1.9614)};
  \addplot[resplot] table[x expr=\coordindex, y=r] {\resG};
  \addplot[rawpts] coordinates {(0,2.0012) (249,1.9267) (250,1.9225) (252,1.9213) (253,1.9250) (255,1.9180)};
  \addplot[fitpts] table[x=r, y=r, x expr=\coordindex, y expr={1.9963-0.000283*\coordindex+(\thisrow{r}-1.9614)/10}] {\resG};
  \addplot[fitline] coordinates {(0,1.9963) (247,1.9264)};
\end{axis}

\begin{axis}[panel, rightcol, at={(640pt,-1541pt)}, anchor=south west,
  ymin=1.8465, ymax=2.00396, ytick={1.9,2},
  title={T185b20d10t1c02n256\_\#N\_16\hspace{10pt}0\_0\_12\_32\hspace{20pt}Red.ChiSq=\hspace{12pt}2.146}]
  \legendsquares{T185b20d10t1c02n256\_\#N\_16}
  \addplot[gaussline] coordinates {(1.4,1.9635) (5.6,1.9555) (16.9,1.9474) (30,1.941) (40,1.936) (50.8,1.9305)
    (53.7,1.9222) (42,1.9145) (30,1.908) (20,1.903) (9.5,1.898)};
  \addplot[meanline] coordinates {(0,1.9269) (248,1.9269)};
  \addplot[resplot] table[x expr=\coordindex, y=r] {\resH};
  \addplot[rawpts] coordinates {(249,1.8590) (250,1.8592) (252,1.8550) (253,1.8545) (254,1.8538)};
  \addplot[fitpts] table[x=r, y=r, x expr=\coordindex, y expr={1.9957-0.00055*\coordindex+(\thisrow{r}-1.9269)/10}] {\resH};
  \addplot[fitline] coordinates {(0,1.9957) (248,1.8593)};
\end{axis}
\end{tikzpicture}
\end{document}
